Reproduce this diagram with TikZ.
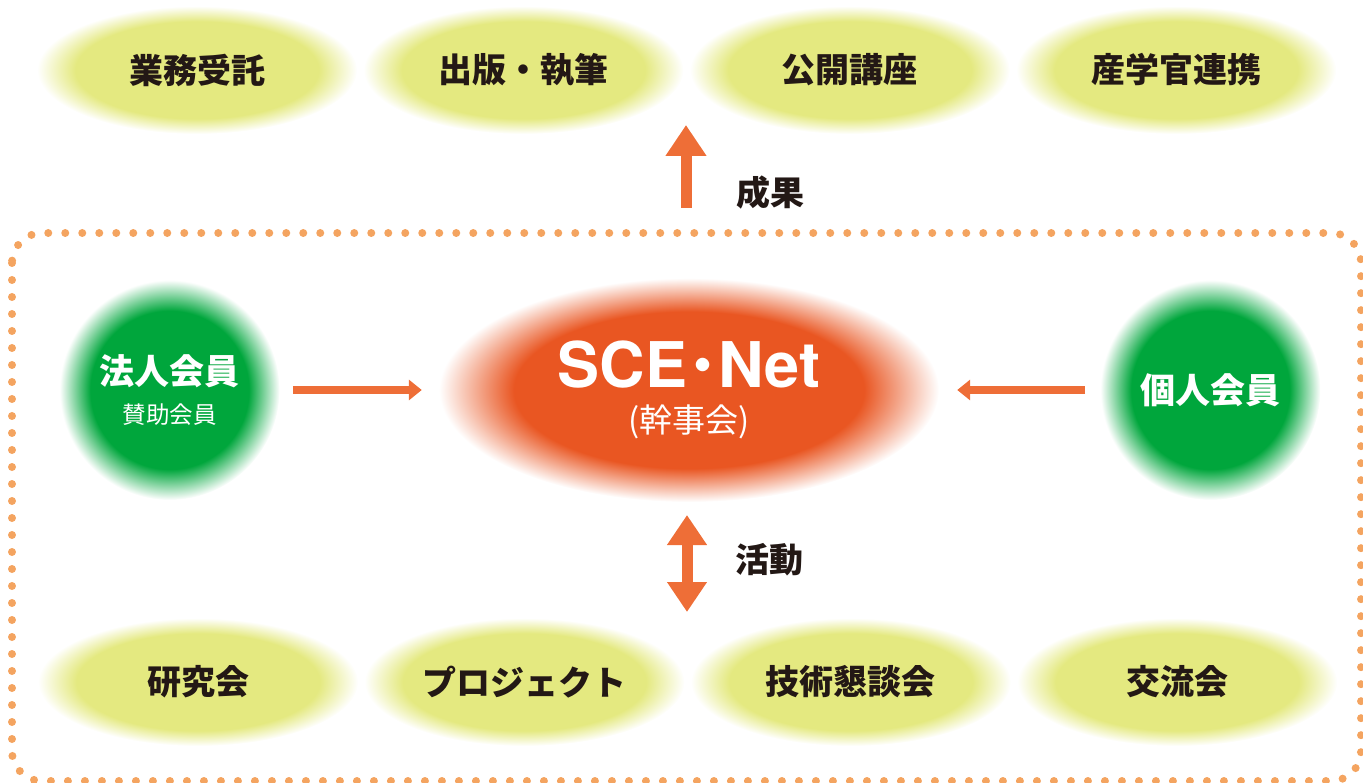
\documentclass[tikz,border=0pt]{standalone}
\usepackage{fontspec}
\setmainfont{Liberation Sans}
\newfontfamily\cjk{Noto Sans CJK JP}
\newfontfamily\heros{TeX Gyre Heros}
\usetikzlibrary{shapes, arrows.meta, positioning}
\definecolor{leaf}{RGB}{228,233,128}
\definecolor{ink}{RGB}{35,24,21}
\definecolor{member}{RGB}{0,166,60}
\definecolor{corered}{RGB}{233,86,34}
\definecolor{arroworange}{RGB}{238,110,55}
\definecolor{dotorange}{RGB}{244,164,96}
\pgfdeclareradialshading{leafglow}{\pgfpoint{0bp}{0bp}}{color(0bp)=(leaf); color(19bp)=(leaf); color(25bp)=(white); color(50bp)=(white)}
\pgfdeclareradialshading{memberglow}{\pgfpoint{0bp}{0bp}}{color(0bp)=(member); color(18bp)=(member); color(25bp)=(white); color(50bp)=(white)}
\pgfdeclareradialshading{coreglow}{\pgfpoint{0bp}{0bp}}{color(0bp)=(corered); color(17.5bp)=(corered); color(25bp)=(white); color(50bp)=(white)}
\tikzset{
  glow/.style={ellipse, minimum width=320pt, minimum height=128pt, inner sep=0pt, shading=leafglow, text=ink, font=\cjk\bfseries\fontsize{34}{40}\selectfont},
  circ/.style={circle, minimum size=220pt, inner sep=0pt, shading=memberglow, text=white, align=center},
  hub/.style={ellipse, minimum width=500pt, minimum height=224pt, inner sep=0pt, shading=coreglow, text=white, align=center},
  flow/.style={-{Triangle[width=20pt, length=13pt]}, line width=8pt, draw=arroworange},
  bigflow/.style={line width=11pt, draw=arroworange},
  tag/.style={text=ink, font=\cjk\bfseries\fontsize{34}{40}\selectfont},
  frame/.style={draw=dotorange, line width=8pt, line cap=round, dash pattern=on 0pt off 17pt, rounded corners=30pt}
}
\begin{document}
\begin{tikzpicture}[x=1pt, y=-1pt]
  \useasboundingbox (0,0) rectangle (1363,783);
  % Frame
  \draw[frame] (12,233) rectangle (1361,781);

  % Nodes
  \node[glow] (contract) at (197,70) {業務受託};
  \node[glow, right=6pt of contract] (publish) {出版・執筆};
  \node[glow, right=6pt of publish] (lecture) {公開講座};
  \node[glow, right=6pt of lecture] (academia) {産学官連携};

  \node[hub, font=\cjk\fontsize{33}{45}\selectfont] (core) at (689,390)
    {{\heros\bfseries\fontsize{63}{63}\selectfont SCE\kern3pt{\fontsize{90}{63}\selectfont·}\kern3pt Net}\\(幹事会)};
  \node[circ, left=159pt of core, font=\cjk\fontsize{23.5}{39}\selectfont] (corp)
    {{\bfseries\fontsize{35}{39}\selectfont 法人会員}\\賛助会員};
  \node[circ, right=161pt of core, font=\cjk\bfseries\fontsize{35}{40}\selectfont] (indiv) {個人会員};

  \node[glow] (study) at (198,682) {研究会};
  \node[glow, right=6pt of study] (project) {プロジェクト};
  \node[glow, right=6pt of project] (forum) {技術懇談会};
  \node[glow, right=6pt of forum] (social) {交流会};

  \coordinate (risefoot) at (686,208);
  \coordinate (risetip) at (686,125);
  \coordinate (acttop) at (687,515);
  \coordinate (actbot) at (687,612);
  \node[tag] (yield) at (770,193) {成果};
  \node[tag] (act) at (769,560) {活動};

  % Connections
  \draw[flow, shorten <=13pt, shorten >=17pt] (corp) -- (core);
  \draw[flow, shorten <=15pt, shorten >=18pt] (indiv) -- (core);
  \draw[bigflow, -{Triangle[width=39pt, length=31pt]}] (risefoot) -- (risetip);
  \draw[bigflow, {Triangle[width=38pt, length=30pt]}-{Triangle[width=38pt, length=30pt]}] (acttop) -- (actbot);
\end{tikzpicture}
\end{document}
